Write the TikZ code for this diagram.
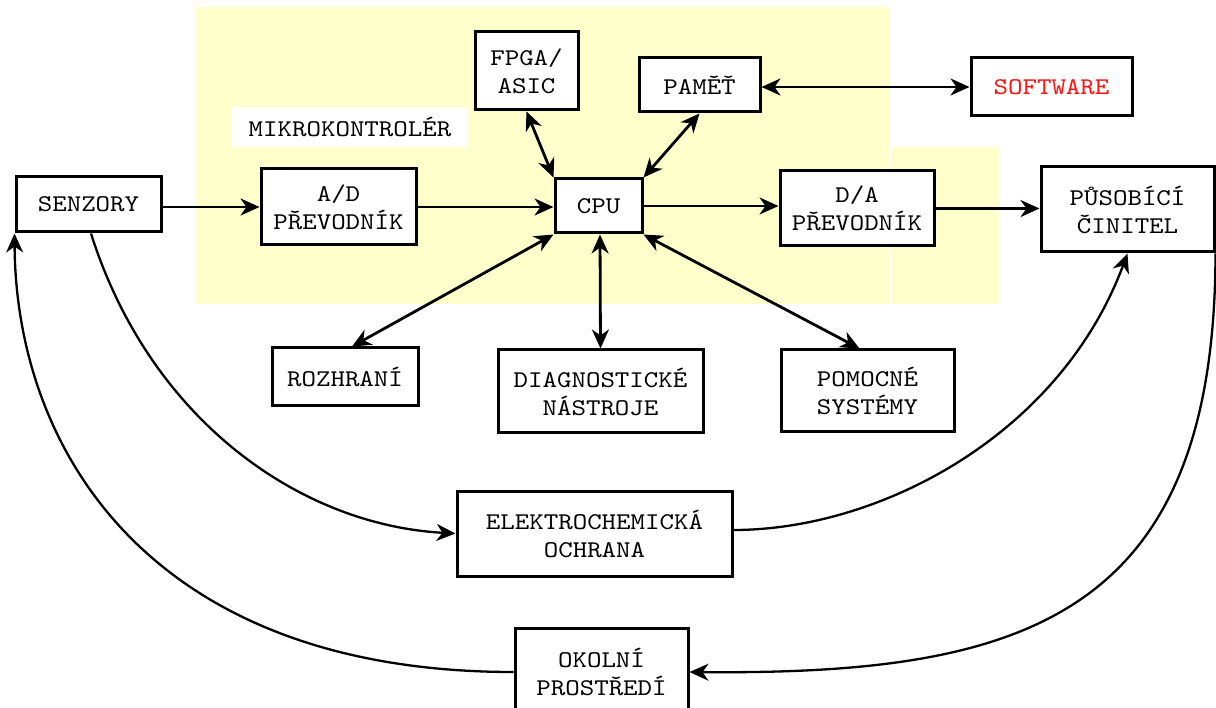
\documentclass[tikz,border=0pt]{standalone}
\usepackage{fontspec}
\newfontfamily\boxfont{lmmono10-regular.otf}[FakeStretch=1.15]
\usetikzlibrary{arrows.meta}
\definecolor{mcyellow}{HTML}{FFFFCC}
\definecolor{swred}{HTML}{FF1010}
\tikzset{
  tip/.tip={Stealth[length=19pt, width=17pt, inset=6pt]},
  block/.style={draw, line width=3pt, fill=white, inner sep=0pt, align=center,
    font=\boxfont\fontsize{24}{28}\selectfont},
  link/.style={line width=2.8pt, -tip},
  dlink/.style={line width=2.8pt, tip-tip},
  loop/.style={line width=2.3pt, -tip},
}
\begin{document}
\begin{tikzpicture}[x=1pt, y=-1pt]
\useasboundingbox (0,0) rectangle (1216,708);
\fill[white] (0,0) rectangle (1216,708);

% microcontroller area
\fill[mcyellow] (196,7) rectangle (890,304);
\fill[mcyellow] (892,147) rectangle (999,304);
\node[fill=white, minimum width=236pt, minimum height=40pt, inner sep=0pt,
  font=\boxfont\fontsize{24}{28}\selectfont] (mk) at (350,127) {MIKROKONTROLÉR};

% blocks
\node[block, minimum width=145pt, minimum height=55pt] (senz) at (88.5,204.5) {SENZORY};
\node[block, minimum width=155pt, minimum height=76pt] (ad) at (338.5,207) {A/D\\PŘEVODNÍK};
\node[block, minimum width=87pt, minimum height=54pt] (cpu) at (598.5,206) {CPU};
\node[block, minimum width=154pt, minimum height=75pt] (da) at (857,208.5) {D/A\\PŘEVODNÍK};
\node[block, minimum width=173pt, minimum height=85pt] (pus) at (1127.5,209.5) {PŮSOBÍCÍ\\ČINITEL};
\node[block, minimum width=103pt, minimum height=78pt] (fpga) at (526.5,71) {FPGA/\\ASIC};
\node[block, minimum width=121pt, minimum height=54pt] (pam) at (699.5,85) {PAMĚŤ};
\node[block, minimum width=161pt, minimum height=58pt, text=swred] (soft) at (1051.5,87) {SOFTWARE};
\node[block, minimum width=146pt, minimum height=58pt] (roz) at (345,377) {ROZHRANÍ};
\node[block, minimum width=205pt, minimum height=83pt] (diag) at (600.5,391.5) {DIAGNOSTICKÉ\\NÁSTROJE};
\node[block, minimum width=173pt, minimum height=82pt] (pom) at (867.5,391) {POMOCNÉ\\SYSTÉMY};
\node[block, minimum width=275pt, minimum height=85pt] (elek) at (594.5,533.5) {ELEKTROCHEMICKÁ\\OCHRANA};
\node[block, minimum width=173pt, minimum height=88pt] (okol) at (601.5,672) {OKOLNÍ\\PROSTŘEDÍ};

% signal chain
\draw[link] ([yshift=-2.5pt]senz.east) -- (ad.west);
\draw[link] (ad.east) -- (ad.east -| cpu.west);
\draw[link] (cpu.east) -- (cpu.east -| da.west);
\draw[link] (da.east) -- (da.east -| pus.west);

% buses around the CPU
\draw[dlink] (fpga.south) -- (cpu.north west);
\draw[dlink] (pam.south) -- (cpu.north east);
\draw[dlink] ([yshift=-2pt]pam.east) -- (soft.west);
\draw[dlink] (cpu.south west) -- ([xshift=7pt]roz.north);
\draw[dlink] ([xshift=1.5pt]cpu.south) -- (diag.north);
\draw[dlink] (cpu.south east) -- ([xshift=-8pt]pom.north);

% feedback loops
\draw[loop] ([xshift=2.5pt]senz.south) .. controls (150,420) and (300,525) .. (elek.west);
\draw[loop] ([yshift=3.5pt]elek.east) .. controls (880,530) and (1060,435) .. (pus.south);
\draw[loop] (pus.south east) .. controls (1215,620) and (1020,675) .. (okol.east);
\draw[loop] (okol.west) .. controls (150,672) and (16,450) .. (senz.south west);
\end{tikzpicture}
\end{document}
